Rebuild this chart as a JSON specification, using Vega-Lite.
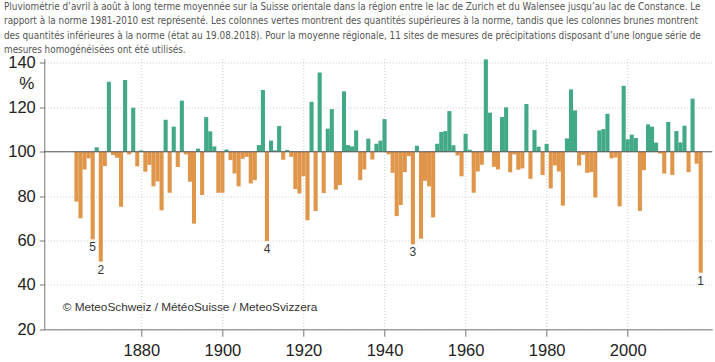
{
  "$schema": "https://vega.github.io/schema/vega-lite/v6.json",
  "width": 668,
  "height": 270.8,
  "autosize": {"type": "none"},
  "padding": {"left": 44.3, "top": 58.5, "right": 2.7, "bottom": 32.7},
  "background": "white",
  "config": {
    "view": {"stroke": null},
    "font": "Liberation Sans"
  },
  "title": {
    "text": [
      "Pluviométrie d’avril à août à long terme moyennée sur la Suisse orientale dans la région entre le lac de Zurich et du Walensee jusqu’au lac de Constance. Le",
      "rapport à la norme 1981-2010 est représenté. Les colonnes vertes montrent des quantités supérieures à la norme, tandis que les colonnes brunes montrent",
      "des quantités inférieures à la norme (état au 19.08.2018). Pour la moyenne régionale, 11 sites de mesures de précipitations disposant d’une longue série de",
      "mesures homogénéisées ont été utilisés."
    ],
    "anchor": "start",
    "frame": "group",
    "orient": "top",
    "dx": -40.3,
    "offset": -10.2,
    "baseline": "bottom",
    "font": "Liberation Sans Narrow, DejaVu Sans Condensed, sans-serif",
    "fontSize": 9.85,
    "fontWeight": "normal",
    "lineHeight": 14.5,
    "color": "#555555"
  },
  "data": {
    "values": [
      {"year": 1864, "v": 77.5}, {"year": 1865, "v": 70}, {"year": 1866, "v": 92}, {"year": 1867, "v": 97},
      {"year": 1868, "v": 60.5, "rank": "5"}, {"year": 1869, "v": 102}, {"year": 1870, "v": 50.5, "rank": "2"},
      {"year": 1871, "v": 93.5}, {"year": 1872, "v": 131.5}, {"year": 1873, "v": 98.5}, {"year": 1874, "v": 97.3},
      {"year": 1875, "v": 75.2}, {"year": 1876, "v": 132.3}, {"year": 1877, "v": 98.8}, {"year": 1878, "v": 119.8},
      {"year": 1879, "v": 93.4}, {"year": 1880, "v": 100.6}, {"year": 1881, "v": 91}, {"year": 1882, "v": 94.1},
      {"year": 1883, "v": 84.4}, {"year": 1884, "v": 86.6}, {"year": 1885, "v": 73.6}, {"year": 1886, "v": 114.4},
      {"year": 1887, "v": 81.5}, {"year": 1888, "v": 111.3}, {"year": 1889, "v": 93.1}, {"year": 1890, "v": 123},
      {"year": 1891, "v": 98.8}, {"year": 1892, "v": 86.5}, {"year": 1893, "v": 67.6}, {"year": 1894, "v": 101.4},
      {"year": 1895, "v": 80.5}, {"year": 1896, "v": 115.6}, {"year": 1897, "v": 109.2}, {"year": 1898, "v": 102.4},
      {"year": 1899, "v": 81.5}, {"year": 1900, "v": 81.5}, {"year": 1901, "v": 101}, {"year": 1902, "v": 96.2},
      {"year": 1903, "v": 90.2}, {"year": 1904, "v": 84.4}, {"year": 1905, "v": 96.8}, {"year": 1906, "v": 97.7},
      {"year": 1907, "v": 85.7}, {"year": 1908, "v": 87.2}, {"year": 1909, "v": 103}, {"year": 1910, "v": 127.8},
      {"year": 1911, "v": 59.8, "rank": "4"}, {"year": 1912, "v": 105}, {"year": 1913, "v": 100.6}, {"year": 1914, "v": 111.6},
      {"year": 1915, "v": 96.4}, {"year": 1916, "v": 100.8}, {"year": 1917, "v": 97.7}, {"year": 1918, "v": 83.2},
      {"year": 1919, "v": 81.2}, {"year": 1920, "v": 89}, {"year": 1921, "v": 69.1}, {"year": 1922, "v": 122.5},
      {"year": 1923, "v": 73.3}, {"year": 1924, "v": 135.7}, {"year": 1925, "v": 81.4}, {"year": 1926, "v": 110.4},
      {"year": 1927, "v": 119.2}, {"year": 1928, "v": 82.9}, {"year": 1929, "v": 85}, {"year": 1930, "v": 127.2},
      {"year": 1931, "v": 103}, {"year": 1932, "v": 102.4}, {"year": 1933, "v": 109.6}, {"year": 1934, "v": 87.2},
      {"year": 1935, "v": 92}, {"year": 1936, "v": 105.9}, {"year": 1937, "v": 96.5}, {"year": 1938, "v": 103.6},
      {"year": 1939, "v": 105}, {"year": 1940, "v": 114.7}, {"year": 1941, "v": 98.8}, {"year": 1942, "v": 90.5},
      {"year": 1943, "v": 71}, {"year": 1944, "v": 76}, {"year": 1945, "v": 90.8}, {"year": 1946, "v": 98},
      {"year": 1947, "v": 58.3, "rank": "3"}, {"year": 1948, "v": 102.7}, {"year": 1949, "v": 60.8}, {"year": 1950, "v": 86.9},
      {"year": 1951, "v": 84.4}, {"year": 1952, "v": 70.4}, {"year": 1953, "v": 103.6}, {"year": 1954, "v": 108.9},
      {"year": 1955, "v": 109.3}, {"year": 1956, "v": 118.3}, {"year": 1957, "v": 102.9}, {"year": 1958, "v": 98.3},
      {"year": 1959, "v": 88.9}, {"year": 1960, "v": 108.1}, {"year": 1961, "v": 100.9}, {"year": 1962, "v": 81.5},
      {"year": 1963, "v": 91.1}, {"year": 1964, "v": 94.1}, {"year": 1965, "v": 141.6}, {"year": 1966, "v": 117.6},
      {"year": 1967, "v": 93.2}, {"year": 1968, "v": 92}, {"year": 1969, "v": 115.6}, {"year": 1970, "v": 120},
      {"year": 1971, "v": 90.7}, {"year": 1972, "v": 98.8}, {"year": 1973, "v": 91.9}, {"year": 1974, "v": 92.5},
      {"year": 1975, "v": 121.5}, {"year": 1976, "v": 87.8}, {"year": 1977, "v": 109.8}, {"year": 1978, "v": 102.3},
      {"year": 1979, "v": 89.5}, {"year": 1980, "v": 103.5}, {"year": 1981, "v": 83.5}, {"year": 1982, "v": 93.8},
      {"year": 1983, "v": 91.1}, {"year": 1984, "v": 75.7}, {"year": 1985, "v": 106}, {"year": 1986, "v": 128.1},
      {"year": 1987, "v": 118.6}, {"year": 1988, "v": 93.8}, {"year": 1989, "v": 98.6}, {"year": 1990, "v": 90.5},
      {"year": 1991, "v": 90.8}, {"year": 1992, "v": 79.4}, {"year": 1993, "v": 109.6}, {"year": 1994, "v": 110.2},
      {"year": 1995, "v": 117.1}, {"year": 1996, "v": 97}, {"year": 1997, "v": 97.4}, {"year": 1998, "v": 75.4},
      {"year": 1999, "v": 129.7}, {"year": 2000, "v": 105.6}, {"year": 2001, "v": 107.7}, {"year": 2002, "v": 106.2},
      {"year": 2003, "v": 73.3}, {"year": 2004, "v": 91.7}, {"year": 2005, "v": 112.3}, {"year": 2006, "v": 111.3},
      {"year": 2007, "v": 104.1}, {"year": 2008, "v": 99.2}, {"year": 2009, "v": 90.2}, {"year": 2010, "v": 113.4},
      {"year": 2011, "v": 89.5}, {"year": 2012, "v": 109.3}, {"year": 2013, "v": 104.2}, {"year": 2014, "v": 111.7},
      {"year": 2015, "v": 90.8}, {"year": 2016, "v": 123.9}, {"year": 2017, "v": 94.6}, {"year": 2018, "v": 45.5, "rank": "1"}
    ]
  },
  "encoding": {
    "x": {
      "field": "year",
      "type": "quantitative",
      "scale": {"domain": [1857.3, 2019.63], "nice": false, "zero": false},
      "axis": {
        "title": null,
        "values": [1880, 1900, 1920, 1940, 1960, 1980, 2000],
        "format": "d",
        "labelFontSize": 16.5,
        "labelColor": "#222222",
        "labelPadding": 6,
        "tickSize": 7,
        "tickColor": "#777777",
        "domainColor": "#777777",
        "grid": true,
        "gridColor": "#c8c8c8",
        "gridDash": [1, 2],
        "gridWidth": 1
      }
    },
    "y": {
      "type": "quantitative",
      "scale": {"domain": [20, 142], "nice": false, "zero": false},
      "axis": {
        "title": "%",
        "titleAngle": 0,
        "titleX": -18,
        "titleY": 24.5,
        "titleAlign": "center",
        "titleBaseline": "middle",
        "titleFontSize": 17,
        "titleFontWeight": "normal",
        "titleColor": "#222222",
        "values": [20, 40, 60, 80, 100, 120, 140],
        "labelFontSize": 16.5,
        "labelColor": "#222222",
        "labelPadding": 4,
        "tickSize": 5,
        "tickColor": "#777777",
        "domainColor": "#777777",
        "grid": true,
        "gridColor": "#c8c8c8",
        "gridDash": [1, 2],
        "gridWidth": 1
      }
    }
  },
  "layer": [
    {
      "mark": {"type": "bar", "width": 4.1},
      "encoding": {
        "y": {"field": "v"},
        "y2": {"datum": 100},
        "color": {
          "condition": {"test": "datum.v >= 100", "value": "#41a985"},
          "value": "#e0964a"
        }
      }
    },
    {
      "data": {"values": [{"ref": 100}]},
      "mark": {"type": "rule", "color": "#555555", "strokeWidth": 1.2},
      "encoding": {"y": {"field": "ref"}, "x": null}
    },
    {
      "transform": [{"filter": "isValid(datum.rank)"}],
      "mark": {"type": "text", "baseline": "top", "dy": 3, "fontSize": 12, "color": "#333333"},
      "encoding": {"y": {"field": "v"}, "text": {"field": "rank"}}
    },
    {
      "transform": [{"filter": "datum.year == 1864"}],
      "mark": {"type": "text", "align": "left", "baseline": "middle", "fontSize": 11.8, "color": "#333333"},
      "encoding": {
        "x": {"datum": 1860.6},
        "y": {"datum": 30},
        "text": {"value": "© MeteoSchweiz / MétéoSuisse / MeteoSvizzera"}
      }
    }
  ]
}
